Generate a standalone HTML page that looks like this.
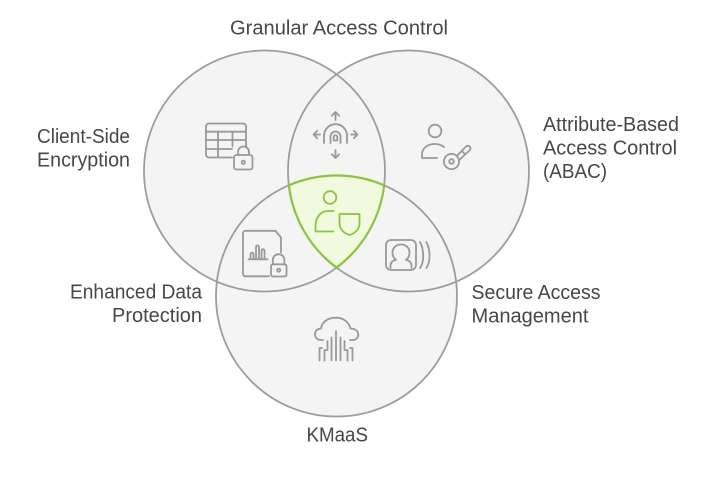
<!DOCTYPE html>
<html>
<head>
<meta charset="utf-8">
<style>
  html,body{margin:0;padding:0;background:#ffffff;}
  svg{display:block;}
  text{font-family:"Liberation Sans",Arial,sans-serif;font-size:20px;fill:#474747;}
</style>
</head>
<body>
<svg width="722" height="496" viewBox="0 0 722 496" xmlns="http://www.w3.org/2000/svg">
  <!-- circle fills -->
  <circle cx="264.5" cy="171" r="120.5" fill="#f4f4f4"/>
  <circle cx="408.5" cy="171" r="120.5" fill="#f4f4f4"/>
  <circle cx="336.5" cy="296" r="120.5" fill="#f4f4f4"/>
  <!-- circle strokes -->
  <g fill="none" stroke="#9d9d9d" stroke-width="1.8">
    <circle cx="264.5" cy="171" r="120.5"/>
    <circle cx="408.5" cy="171" r="120.5"/>
    <circle cx="336.5" cy="296" r="120.5"/>
  </g>
  <!-- central highlighted region -->
  <path d="M 288.86 185.33 A 120.5 120.5 0 0 1 384.14 185.33 A 120.5 120.5 0 0 1 336.5 267.62 A 120.5 120.5 0 0 1 288.86 185.33 Z"
        fill="#f1fadf" stroke="#8cc43f" stroke-width="2.2"/>

  <!-- icons -->
  <g fill="none" stroke="#999999" stroke-width="1.8" stroke-linecap="round" stroke-linejoin="round">
    <!-- table with lock -->
    <path d="M 232 157.5 H 209 a3 3 0 0 1 -3 -3 V 126.5 a3 3 0 0 1 3 -3 H 243 a3 3 0 0 1 3 3 V 146.5"/>
    <path d="M 206 131.7 H 246"/>
    <path d="M 206 140 H 246"/>
    <path d="M 206 149 H 232"/>
    <path d="M 218 131.7 V 157.5"/>
    <path d="M 232.5 131.7 V 146.5"/>
    <rect x="234" y="155" width="18.5" height="14.5" rx="2.5"/>
    <path d="M 238 155 V 152 a5.5 5.5 0 0 1 11 0 V 155"/>
    <circle cx="243.3" cy="162.3" r="1.6"/>

    <!-- fingerprint with arrows -->
    <path d="M 335.5 120 V 112 M 331.8 115.7 L 335.5 112 L 339.2 115.7"/>
    <path d="M 335.5 150 V 158 M 331.8 154.3 L 335.5 158 L 339.2 154.3"/>
    <path d="M 320 134.5 H 313.5 M 317.2 130.8 L 313.5 134.5 L 317.2 138.2"/>
    <path d="M 351 134.5 H 357.5 M 353.8 130.8 L 357.5 134.5 L 353.8 138.2"/>
    <path d="M 324 143 V 135.7 a 11.5 11.5 0 0 1 23 0 V 143"/>
    <path d="M 330.5 143 V 136.5 a 5 5 0 0 1 10 0 V 143"/>
    <path d="M 333.7 140.5 V 137 a 1.8 1.8 0 0 1 3.6 0 V 140.5 Z"/>

    <!-- person with key -->
    <circle cx="435" cy="131" r="6.3"/>
    <path d="M 437 158 H 422 V 154.5 C 422 148, 428 144, 435 144 C 438.5 144, 441.5 145, 444 147"/>
    <circle cx="451.5" cy="161.5" r="7.6"/>
    <circle cx="451.5" cy="161.5" r="2.3"/>
    <path d="M 456.8 156 L 466 146.5 Q 468 144.8 469.8 146.6 Q 471.4 148.6 469.4 150.5 L 458.8 160.4"/>
    <path d="M 461.8 151 L 465 154.2"/>

    <!-- document with chart and lock -->
    <path d="M 269 276.3 H 245.5 a2.5 2.5 0 0 1 -2.5 -2.5 V 233.3 a2.5 2.5 0 0 1 2.5 -2.5 H 275.5 L 281 237.5 V 252.5"/>
    <path d="M 248.5 259.3 H 267.5"/>
    <path d="M 250.5 259 V 254.2 a1.5 1.5 0 0 1 3 0 V 259"/>
    <path d="M 256 259 V 247 a1.5 1.5 0 0 1 3 0 V 259"/>
    <path d="M 261.5 259 V 250.8 a1.5 1.5 0 0 1 3 0 V 259"/>
    <rect x="271" y="264.3" width="15.5" height="12.2" rx="2"/>
    <path d="M 272.8 264.3 V 260 a5.8 5.8 0 0 1 11.6 0 V 264.3"/>
    <circle cx="278.7" cy="270.2" r="1.6"/>

    <!-- ID badge with waves -->
    <rect x="386" y="240" width="30" height="30" rx="5"/>
    <path d="M 390.5 268 V 266 C 390.5 262.5, 393 260.5, 396 259.8 C 393.5 258, 392.5 255.5, 392.5 252.8 C 392.5 247.5, 396.2 244.5, 401 244.5 C 405.8 244.5, 409.5 247.5, 409.5 252.8 C 409.5 255.5, 408.5 258, 406 259.8 C 409 260.5, 411.5 262.5, 411.5 266 V 268"/>
    <path d="M 420 242 C 424.3 250, 424.3 262, 420 268"/>
    <path d="M 426.3 242 C 430.6 250, 430.6 262, 426.3 268"/>

    <!-- cloud with circuits -->
    <path d="M 323 340 H 320.5 C 317 340, 315 337, 315 334.5 C 315 331, 317.5 328.5, 321 328.5 C 322 321.5, 328 317.7, 336.5 317.7 C 344 317.9, 349 322.5, 350.5 328.5 C 355 328.5, 358.3 331, 358.3 334.5 C 358.3 337.5, 356 340, 352.5 340 H 350"/>
    <path d="M 336 331 V 360.5"/>
    <path d="M 331.5 337.5 V 360.5"/>
    <path d="M 340.5 337.5 V 360.5"/>
    <path d="M 327.5 341 V 350 H 324.5 V 360.5"/>
    <path d="M 344.5 341 V 350 H 347.5 V 360.5"/>
    <path d="M 319.5 360.5 V 348 H 322"/>
    <path d="M 352.5 360.5 V 348 H 350"/>
  </g>

  <!-- center icon (green) -->
  <g fill="none" stroke="#8cc43f" stroke-width="1.8" stroke-linecap="round" stroke-linejoin="round">
    <circle cx="330" cy="197.5" r="6.3"/>
    <path d="M 333.5 231.5 H 315.5 V 226 C 315.5 217, 321 211, 328 211 H 333.5"/>
    <path d="M 339.5 214 H 359.5 V 223 C 359.5 229, 355 233.5, 349.5 235 C 344 233.5, 339.5 229, 339.5 223 Z"/>
  </g>

  <!-- labels -->
  <text x="230" y="34.5" textLength="218" lengthAdjust="spacingAndGlyphs">Granular Access Control</text>

  <text x="37" y="143" textLength="93" lengthAdjust="spacingAndGlyphs">Client-Side</text>
  <text x="37" y="166.5" textLength="93" lengthAdjust="spacingAndGlyphs">Encryption</text>

  <text x="543" y="131" textLength="136" lengthAdjust="spacingAndGlyphs">Attribute-Based</text>
  <text x="543" y="154.5" textLength="134" lengthAdjust="spacingAndGlyphs">Access Control</text>
  <text x="543" y="178" textLength="64" lengthAdjust="spacingAndGlyphs">(ABAC)</text>

  <text x="70" y="298.5" textLength="132" lengthAdjust="spacingAndGlyphs">Enhanced Data</text>
  <text x="112" y="322" textLength="90" lengthAdjust="spacingAndGlyphs">Protection</text>

  <text x="471.5" y="299" textLength="129" lengthAdjust="spacingAndGlyphs">Secure Access</text>
  <text x="471.5" y="322.5" textLength="117" lengthAdjust="spacingAndGlyphs">Management</text>

  <text x="306.5" y="441.5" textLength="61.5" lengthAdjust="spacingAndGlyphs">KMaaS</text>
</svg>
</body>
</html>
